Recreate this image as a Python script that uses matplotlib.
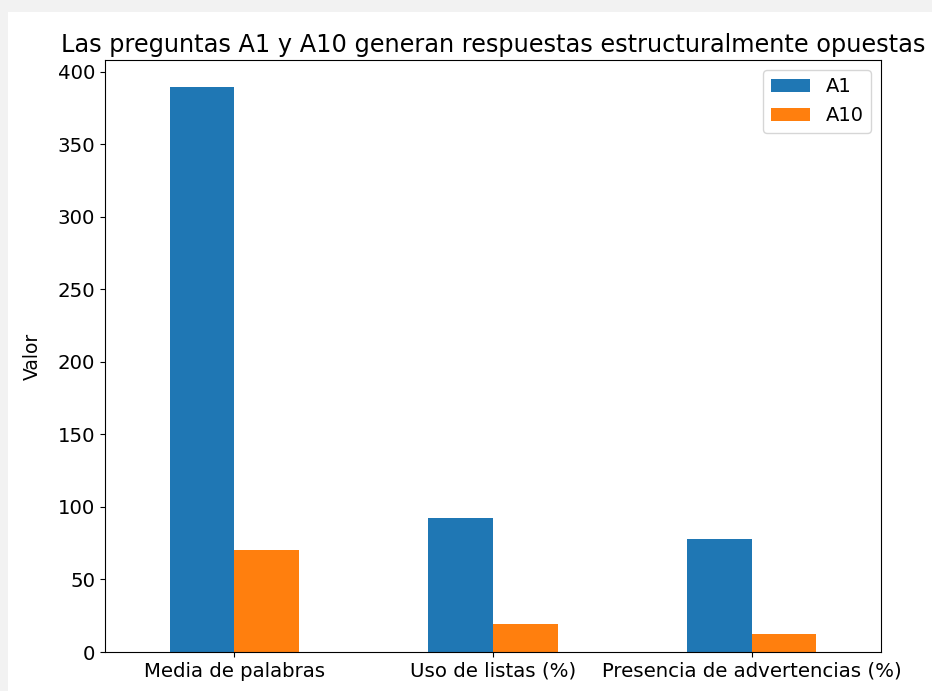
import numpy as np
import matplotlib
matplotlib.use("Agg")
import matplotlib.pyplot as plt
from matplotlib.patches import Rectangle

categories = ["Media de palabras", "Uso de listas (%)", "Presencia de advertencias (%)"]
a1 = [389.5, 92.4, 78.0]
a10 = [70.5, 19.0, 12.5]

fig = plt.figure(figsize=(9.32, 6.91), dpi=100)
fig.patch.set_facecolor("#f2f2f2")
# white canvas inside the grey screenshot margin
fig.patches.append(Rectangle((8 / 932, 0), 1, 1 - 12 / 691, transform=fig.transFigure,
                             facecolor="white", edgecolor="none", zorder=-1))

ax = fig.add_axes([105 / 932, 1 - 652 / 691, 776 / 932, 592 / 691])
x = np.arange(len(categories))
w = 0.25
ax.bar(x - w / 2, a1, w, color="#1f77b4", label="A1")
ax.bar(x + w / 2, a10, w, color="#ff7f0e", label="A10")

ax.set_xlim(-0.5, 2.5)
ax.set_ylim(0, 408)
ax.set_xticks(x)
ax.set_xticklabels(categories)
ax.tick_params(labelsize=14.2)
ax.set_ylabel("Valor", fontsize=13.5)
ax.yaxis.set_label_coords(-63 / 776, 0.5)
ax.set_title("Las preguntas A1 y A10 generan respuestas estructuralmente opuestas", fontsize=17.3)
ax.legend(fontsize=14)

fig.savefig("out.png", dpi=100, facecolor=fig.get_facecolor())
